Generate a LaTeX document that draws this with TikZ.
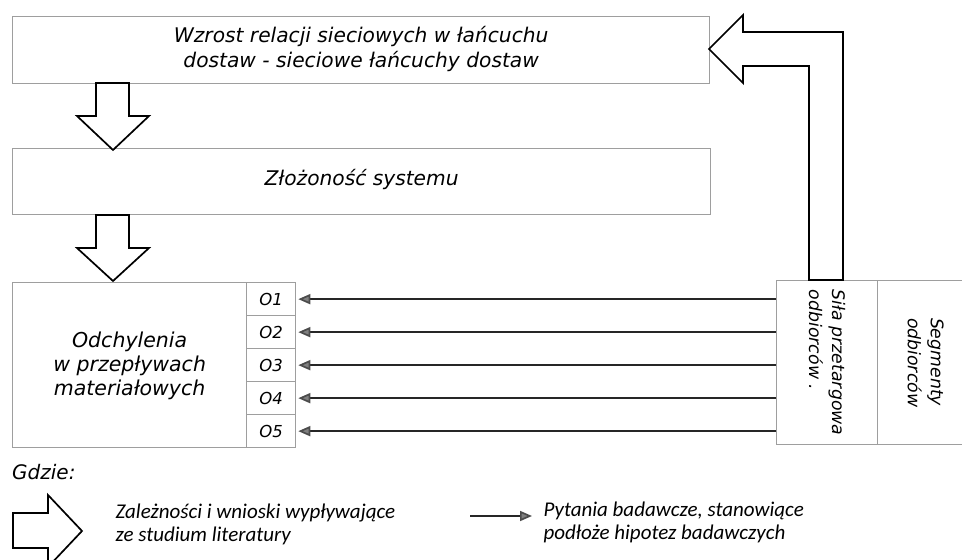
\documentclass[tikz,border=0pt]{standalone}
\usepackage{fontspec}
\setmainfont{Carlito}
\newfontfamily\dvs{DejaVu Sans}
\usetikzlibrary{arrows.meta}
\begin{document}
\begin{tikzpicture}[x=1pt,y=-1pt,
  boxline/.style={draw=black!38, line width=1.3pt, inner sep=0pt, anchor=north west},
  bigarrow/.style={draw=black, line width=1.7pt, fill=white, line join=miter},
  qarrow/.style={draw=black!85, line width=1.7pt, -{Triangle[length=12pt,width=10pt,color=black!70,fill=black!50]}},
  maintext/.style={font=\dvs\itshape\fontsize{20.2}{25}\selectfont, align=center},
  odtext/.style={font=\dvs\itshape\fontsize{20.5}{24}\selectfont, align=center},
  otext/.style={font=\dvs\itshape\fontsize{16.5}{20}\selectfont},
  rottext/.style={font=\dvs\itshape\fontsize{17.3}{23}\selectfont, rotate=-90, align=left},
  legtext/.style={font=\itshape\fontsize{21}{23}\selectfont, align=left, anchor=west}
]
\useasboundingbox (0,0) rectangle (962,560);
% boxes
\node[boxline, minimum width=697pt, minimum height=67pt] (top) at (12,16) {};
\node[maintext] (toptext) at ([yshift=1pt]top.center) {Wzrost relacji sieciowych w łańcuchu\\dostaw - sieciowe łańcuchy dostaw};
\node[boxline, minimum width=698pt, minimum height=66pt] (mid) at (12,148) {};
\node[maintext] (midtext) at ([yshift=2pt]mid.center) {Złożoność systemu};
\node[boxline, minimum width=234pt, minimum height=165pt] (odch) at (12,282) {};
\node[odtext] (odchtext) at ([yshift=-1pt]odch.center) {Odchylenia\\w przepływach\\materiałowych};
\foreach \i in {1,...,5}{
  \node[boxline, minimum width=49pt, minimum height=33pt] (o\i) at (246,{282+33*(\i-1)}) {};
  \node[otext] (ot\i) at (o\i.center) {O\i};
}
\node[boxline, minimum width=101pt, minimum height=164pt] (sila) at (776,280) {};
\node[rottext] (silatext) at (sila.center) {Siła przetargowa\\odbiorców .};
\node[boxline, minimum width=100pt, minimum height=164pt] (segm) at (877,280) {};
\node[rottext] (segmtext) at ([xshift=-2pt]segm.center) {Segmenty\\odbiorców};
% block arrows
\draw[bigarrow] (96,83) -- (96,116) -- (77,116) -- (113,150) -- (149,116) -- (129,116) -- (129,83) -- cycle;
\draw[bigarrow] (96,215) -- (96,248) -- (77,248) -- (113,281) -- (149,248) -- (129,248) -- (129,215) -- cycle;
\draw[bigarrow] (709,49) -- (743,15) -- (743,32) -- (843,32) -- (843,280) -- (809,280) -- (809,66) -- (743,66) -- (743,83) -- cycle;
% research question arrows
\foreach \i in {1,...,5}{
  \draw[qarrow] (sila.west |- o\i.east) -- ([xshift=2pt]o\i.east);
}
% legend
\node[font=\dvs\itshape\fontsize{20}{22}\selectfont, anchor=west, inner sep=0pt] (gdzie) at (12,472) {Gdzie:};
\draw[bigarrow] (13,513) -- (48,513) -- (48,495) -- (82,531) -- (48,567) -- (48,548) -- (13,548) -- cycle;
\node[legtext] (leg1) at (112,524) {Zależności i wnioski wypływające\\ze studium literatury};
\coordinate (la) at (470,516);
\coordinate (lb) at (532,516);
\draw[qarrow] (la) -- (lb);
\node[legtext] (leg2) at (540,522) {Pytania badawcze, stanowiące\\podłoże hipotez badawczych};
\end{tikzpicture}
\end{document}
